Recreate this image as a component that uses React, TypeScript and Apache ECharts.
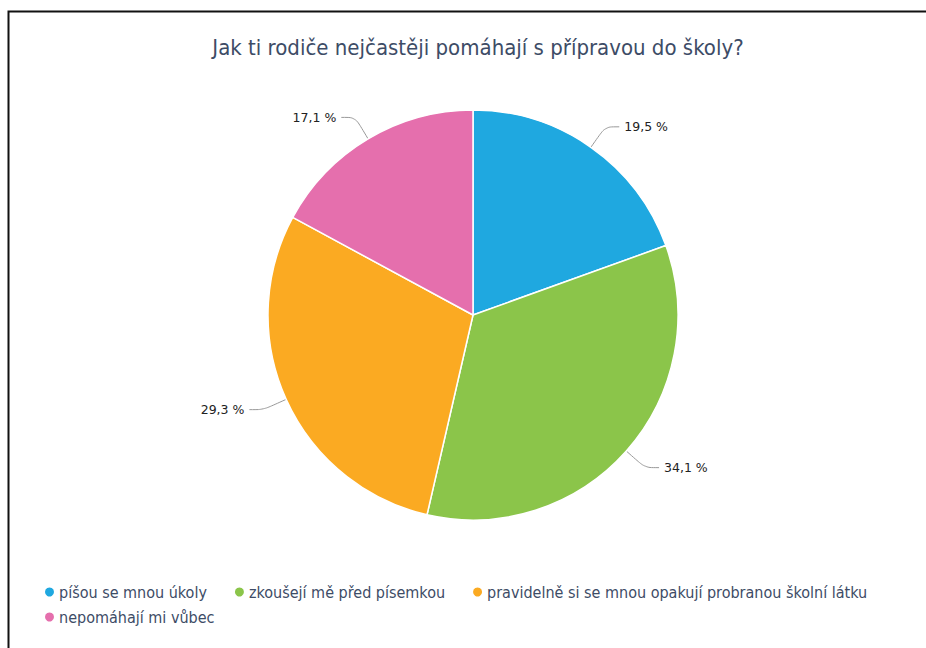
import React, { useEffect, useRef } from "react";
import * as echarts from "echarts";

const titleText = "Jak ti rodiče nejčastěji pomáhají s přípravou do školy?";
const categories = [
  "píšou se mnou úkoly",
  "zkoušejí mě před písemkou",
  "pravidelně si se mnou opakují probranou školní látku",
  "nepomáhají mi vůbec",
];
const values = [19.5, 34.1, 29.3, 17.1];
const colors = ["#1fa8e0", "#8bc54a", "#fbaa22", "#e56fad"];

const legendText = {
  fontFamily: "DejaVu Sans Condensed",
  fontSize: 16,
  color: "#3d4c66",
  padding: [0, 0, 0, -1],
};

export default function App() {
  const ref = useRef<HTMLDivElement>(null);
  useEffect(() => {
    if (!ref.current) return;
    const chart = echarts.init(ref.current, null, { renderer: "svg" });
    chart.setOption({
      animation: false,
      backgroundColor: "#ffffff",
      color: colors,
      title: {
        text: titleText,
        left: 473,
        textAlign: "center",
        top: 31,
        textStyle: {
          fontFamily: "DejaVu Sans Condensed",
          fontWeight: "normal",
          fontSize: 22,
          color: "#3d4c66",
        },
      },
      legend: [
        {
          left: 38,
          top: 579,
          icon: "circle",
          itemWidth: 11,
          itemHeight: 11,
          itemGap: 26,
          textStyle: legendText,
          data: categories.slice(0, 3),
        },
        {
          left: 38,
          top: 604,
          icon: "circle",
          itemWidth: 11,
          itemHeight: 11,
          itemGap: 26,
          textStyle: legendText,
          data: categories.slice(3),
        },
      ],
      graphic: [
        {
          type: "rect",
          shape: { x: 8.5, y: 11.5, width: 940, height: 660 },
          style: { fill: "none", stroke: "#111", lineWidth: 2 },
        },
      ],
      series: [
        {
          type: "pie",
          center: [473, 315],
          radius: [0, 205],
          startAngle: 90,
          clockwise: true,
          data: categories.map((c, i) => ({ name: c, value: values[i] })),
          itemStyle: { borderColor: "#ffffff", borderWidth: 1.5 },
          label: {
            show: true,
            formatter: (p: any) => String(p.value).replace(".", ",") + " %",
            fontFamily: "DejaVu Sans",
            fontSize: 12.5,
            color: "#222",
          },
          labelLine: {
            show: true,
            length: 25,
            length2: 14,
            smooth: 0.3,
            lineStyle: { color: "#999", width: 1 },
          },
        },
      ],
    });
    return () => chart.dispose();
  }, []);
  return (
    <div
      ref={ref}
      style={{ position: "fixed", left: 0, top: 0, width: 926, height: 648 }}
    />
  );
}
